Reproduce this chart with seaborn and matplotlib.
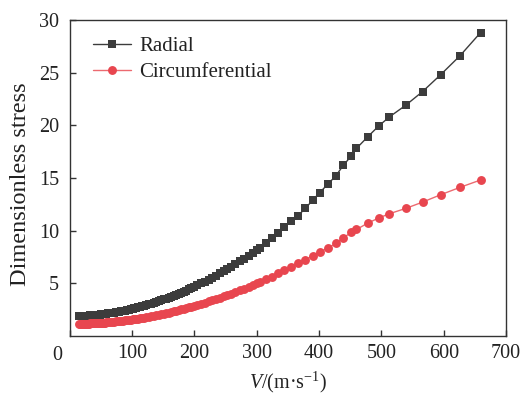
import matplotlib
matplotlib.use("Agg")
import matplotlib.pyplot as plt
import matplotlib.transforms as mtransforms
import seaborn as sns
import pandas as pd

V = [15, 17, 19, 21, 23, 25, 27, 29, 31, 33, 35, 37, 39, 41, 43, 45, 47, 49, 51, 53, 55, 57, 59,
     62, 65, 68, 71, 74, 77, 80, 83, 86, 89, 92, 95, 98, 101, 104, 107, 110, 113, 116, 119,
     123, 127, 131, 135, 139, 143, 147, 151, 155, 159, 163, 167, 171, 175, 179, 183, 187, 191,
     195, 199, 205, 211, 217, 223, 229, 235, 241, 247, 253, 259, 266, 273, 280, 287, 294, 300,
     306, 315, 324, 334, 344, 355, 366, 378, 390, 401, 414, 427, 439, 452, 460, 478, 496, 513,
     539, 566, 595, 626, 659]

radial = [1.87, 1.87, 1.88, 1.88, 1.89, 1.89, 1.90, 1.91, 1.92, 1.93, 1.94, 1.95, 1.96, 1.97,
          1.98, 1.99, 2.00, 2.02, 2.03, 2.05, 2.06, 2.08, 2.09,
          2.12, 2.15, 2.17, 2.20, 2.23, 2.27, 2.30, 2.33, 2.37, 2.40, 2.44, 2.48, 2.52, 2.56,
          2.61, 2.65, 2.70, 2.74, 2.79, 2.84,
          2.91, 2.98, 3.05, 3.13, 3.20, 3.28, 3.36, 3.45, 3.53, 3.62, 3.71, 3.80, 3.90, 3.99,
          4.09, 4.19, 4.30, 4.40, 4.51, 4.62,
          4.79, 4.97, 5.15, 5.33, 5.52, 5.72, 5.92, 6.12, 6.33, 6.55, 6.80, 7.07, 7.34, 7.62,
          7.90, 8.15,
          8.38, 8.80, 9.25, 9.80, 10.30, 10.90, 11.40, 12.10, 12.90, 13.60, 14.40, 15.20,
          16.20, 17.10, 17.80, 18.90, 19.95, 20.80, 21.90, 23.20, 24.80, 26.60, 28.80]

circumferential = [1.13, 1.13, 1.14, 1.14, 1.14, 1.15, 1.15, 1.16, 1.16, 1.17, 1.17, 1.18,
                   1.19, 1.19, 1.20, 1.21, 1.22, 1.22, 1.23, 1.24, 1.25, 1.26, 1.27,
                   1.29, 1.30, 1.32, 1.34, 1.36, 1.38, 1.40, 1.42, 1.44, 1.46, 1.48, 1.51,
                   1.53, 1.56, 1.59, 1.61, 1.64, 1.67, 1.70, 1.73,
                   1.77, 1.81, 1.86, 1.90, 1.95, 2.00, 2.05, 2.10, 2.15, 2.21, 2.26, 2.32,
                   2.38, 2.44, 2.50, 2.56, 2.62, 2.69, 2.76, 2.82,
                   2.93, 3.03, 3.15, 3.26, 3.38, 3.49, 3.62, 3.74, 3.87, 4.00, 4.16, 4.32,
                   4.49, 4.66, 4.84, 4.99,
                   5.15, 5.40, 5.63, 5.92, 6.21, 6.54, 6.88, 7.22, 7.60, 8.00, 8.30, 8.80,
                   9.30, 9.85, 10.10, 10.70, 11.20, 11.60, 12.10, 12.70, 13.40, 14.10, 14.80]

x_ticks = [0, 100, 200, 300, 400, 500, 600, 700]
y_ticks = [5, 10, 15, 20, 25, 30]

sns.set_style("ticks")
plt.rcParams['font.family'] = ['Liberation Serif', 'DejaVu Serif']
plt.rcParams['mathtext.fontset'] = 'custom'
plt.rcParams['mathtext.rm'] = 'Liberation Serif'
plt.rcParams['mathtext.it'] = 'Liberation Serif:italic'

fig = plt.figure(figsize=(5.25, 3.96), dpi=100)
ax = fig.add_axes([0.1326, 0.152, 0.8314, 0.7975])

df = pd.DataFrame({"V": V, "Radial": radial, "Circumferential": circumferential})

dark = "#3c3c3c"
red = "#e8464f"
red_line = "#ec6a70"
sns.lineplot(data=df, x="V", y="Radial", ax=ax, color=dark, marker="s", markersize=5.8,
             markeredgewidth=0, linewidth=1.0, label="Radial")
sns.lineplot(data=df, x="V", y="Circumferential", ax=ax, color=red, marker="o",
             markersize=6.4, markeredgewidth=0, linewidth=1.0, label="Circumferential")
ln = ax.get_lines()[1]
ln.set_color(red_line)
ln.set_markerfacecolor(red)
ln.set_markeredgecolor(red)

ax.set_xlim(0, 700)
ax.set_ylim(0, 30)
ax.set_xticks(x_ticks)
ax.set_xticklabels([""] + [str(t) for t in x_ticks[1:]])
ax.set_yticks(y_ticks)
ax.set_yticklabels([str(t) for t in y_ticks])
ax.tick_params(direction="in", length=4, width=1, colors="#333333", labelcolor="#222222",
               labelsize=14.5)
ax.tick_params(axis="x", pad=6)
ax.tick_params(axis="y", pad=7.5)
for sp in ax.spines.values():
    sp.set_color("#333333")
    sp.set_linewidth(1.0)

off = mtransforms.ScaledTranslation(-12 / 100, -10.3 / 100, fig.dpi_scale_trans)
ax.text(0, 0, "0", transform=ax.get_xaxis_transform() + off, ha="center", va="top",
        fontsize=14.5, color="#222222")

ax.set_xlabel(r"$\mathit{V}$/(m·s$^{-1}$)", fontsize=14.5, color="#222222", labelpad=5)
ax.set_ylabel("Dimensionless stress", fontsize=17.5, color="#222222")
ax.yaxis.set_label_coords(-0.088, 0.48)

leg = ax.legend(loc="upper left", frameon=False, fontsize=15, handlelength=1.8,
                handletextpad=0.4, borderaxespad=0.0, labelspacing=0.32,
                bbox_to_anchor=(0.035, 0.975))
for t in leg.get_texts():
    t.set_color("#222222")

fig.savefig("out.png", dpi=100)
